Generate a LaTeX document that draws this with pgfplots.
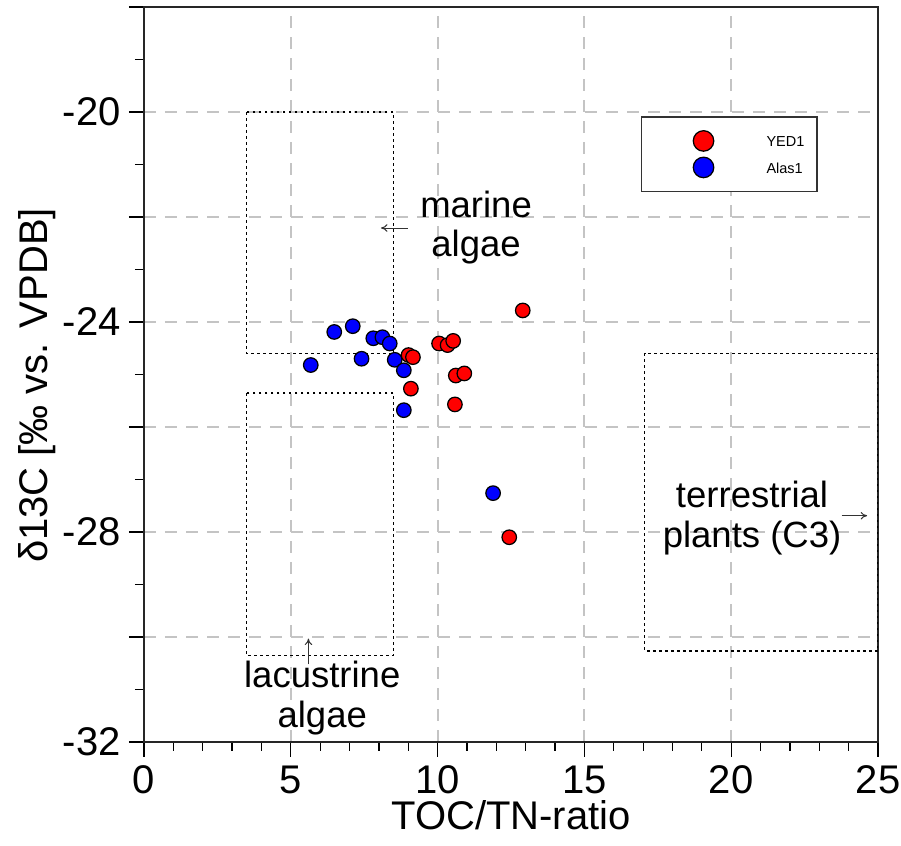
\documentclass[border=0pt]{standalone}
\usepackage{fontspec}
\setmainfont{Liberation Sans}
\usepackage{pgfplots}
\pgfplotsset{compat=1.18}
\usetikzlibrary{arrows.meta}

\definecolor{gridgray}{HTML}{C4C4C4}
\definecolor{ptred}{HTML}{FF0000}
\definecolor{ptblue}{HTML}{0000FF}

% scatter marker with a larger copy in the legend
\pgfplotsset{
  pt/.style={only marks, mark=*, mark size=2.9pt,
    mark options={draw=black, fill=#1, line width=0.5pt},
    legend image code/.code={%
      \path[draw=none, fill=none] (0pt,-5.3pt) rectangle (45pt,5.3pt);
      \draw[##1, mark size=4.1pt] plot coordinates {(19.8pt,0pt)};}},
}
\tikzset{
  boxline/.style={black, line width=0.55pt, dash pattern=on 1.1pt off 1.3pt},
  note/.style={font=\fontsize{14.6}{15.8}\selectfont, align=center, inner sep=0pt},
  pointer/.style={-{To[length=2.6pt,width=3pt]}, line width=0.4pt, black!80},
}

\begin{document}
\begin{tikzpicture}
\begin{axis}[
  scale only axis,
  width=293.6pt, height=294pt,
  xmin=0, xmax=25, ymin=-32, ymax=-18,
  xtick={0,5,...,25},
  minor x tick num=4,
  ytick={-32,-30,...,-18},
  yticklabels={-32,,-28,,-24,,-20,},
  minor y tick num=1,
  tick align=outside,
  tick pos=left,
  major tick length=6pt, minor tick length=3.6pt,
  tick style={black, line width=0.5pt},
  grid=major,
  major grid style={gridgray, line width=0.8pt, dash pattern=on 4.8pt off 3.6pt},
  axis line style={line width=0.6pt, black!85},
  ticklabel style={font=\fontsize{16}{19}\selectfont},
  yticklabel style={inner xsep=3.2pt},
  /pgf/number format/assume math mode=true,
  xlabel={TOC/TN-ratio},
  ylabel={δ13C [‰ vs. VPDB]},
  label style={font=\fontsize{16}{19}\selectfont},
  xlabel style={at={([yshift=-35.2pt]axis description cs:0.5,0)}, anchor=base},
  ylabel style={at={([xshift=-38.4pt]axis description cs:0,0.485)}, anchor=base},
  reverse legend,
  legend style={at={(axis cs:16.92,-20.08)}, anchor=north west,
    draw=black!80, line width=0.6pt, inner xsep=5pt, inner ysep=4.3pt,
    font=\fontsize{5.8}{7}\selectfont, nodes={inner sep=0pt, yshift=-1pt},
    cells={anchor=west}, row sep=0pt},
]

% source-type fields
\draw[boxline] (axis cs:3.5,-20) rectangle (axis cs:8.5,-24.6);
\draw[boxline] (axis cs:3.5,-25.35) rectangle (axis cs:8.5,-30.35);
\draw[boxline] (axis cs:17.05,-24.6) rectangle (axis cs:25,-30.27);

\node[note] at (axis cs:11.31,-22.2) {marine\\algae};
\draw[pointer] (axis cs:8.99,-22.21) -- (axis cs:8.07,-22.21);
\node[note] at (axis cs:6.07,-31.16) {lacustrine\\algae};
\draw[pointer] (axis cs:5.6,-30.52) -- (axis cs:5.6,-30.03);
\node[note] at (axis cs:20.71,-27.73) {terrestrial\\plants (C3)};
\draw[pointer] (axis cs:23.76,-27.69) -- (axis cs:24.63,-27.69);

% Alas1
\addplot[pt=ptblue] coordinates {
  (5.68,-24.82) (6.48,-24.19) (7.11,-24.08) (7.41,-24.70)
  (7.81,-24.31) (8.12,-24.29) (8.37,-24.41) (8.54,-24.72)
  (8.85,-24.92) (8.85,-25.68) (11.89,-27.26)
};
\addlegendentry{Alas1}

% YED1
\addplot[pt=ptred] coordinates {
  (9.01,-24.63) (9.16,-24.67) (9.09,-25.27) (10.05,-24.41)
  (10.34,-24.44) (10.53,-24.36) (10.62,-25.02) (10.91,-24.98)
  (10.59,-25.57) (12.90,-23.78) (12.44,-28.10)
};
\addlegendentry{YED1}

\coordinate (ll) at (rel axis cs:0,0);
\coordinate (ur) at (rel axis cs:1,1);
\end{axis}
\pgfresetboundingbox
\path ([shift={(-57.6pt,-41.6pt)}]ll) rectangle ([shift={(9.2pt,2.8pt)}]ur);
\end{tikzpicture}
\end{document}
